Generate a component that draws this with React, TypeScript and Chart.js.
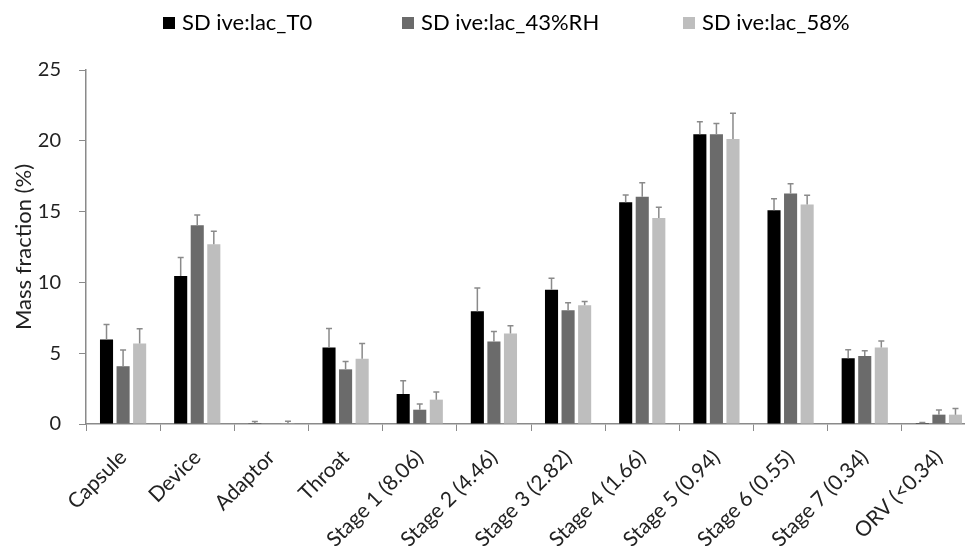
import React, { useEffect, useRef } from "react";
import { Chart, registerables } from "chart.js";

Chart.register(...registerables);

const categories = [
  "Capsule", "Device", "Adaptor", "Throat", "Stage 1 (8.06)", "Stage 2 (4.46)",
  "Stage 3 (2.82)", "Stage 4 (1.66)", "Stage 5 (0.94)", "Stage 6 (0.55)", "Stage 7 (0.34)", "ORV (<0.34)",
];
const seriesNames = ["SD ive:lac_T0", "SD ive:lac_43%RH", "SD ive:lac_58%"];
const seriesColors = ["#000000", "#6b6b6b", "#bebebe"];
const valuesT0 = [5.97, 10.45, 0.05, 5.4, 2.12, 7.97, 9.48, 15.66, 20.47, 15.1, 4.64, 0.06];
const valuesRH43 = [4.08, 14.03, 0, 3.86, 1.01, 5.82, 8.04, 16.04, 20.47, 16.28, 4.81, 0.66];
const valuesRH58 = [5.68, 12.69, 0.05, 4.6, 1.72, 6.39, 8.39, 14.55, 20.12, 15.5, 5.4, 0.66];
const errT0 = [1.05, 1.3, 0.12, 1.34, 0.94, 1.63, 0.82, 0.52, 0.88, 0.8, 0.6, 0.04];
const errRH43 = [1.15, 0.73, 0, 0.55, 0.4, 0.71, 0.52, 1.0, 0.76, 0.68, 0.36, 0.33];
const errRH58 = [1.04, 0.92, 0.15, 1.08, 0.54, 0.54, 0.26, 0.76, 1.82, 0.66, 0.47, 0.44];
const yTicks = [0, 5, 10, 15, 20, 25];

const FONT = "Lato";
const CANVAS_W = 990;
const CANVAS_H = 570;
const LEGEND_X = [163, 402, 683];

export default function App() {
  const ref = useRef<HTMLCanvasElement | null>(null);

  useEffect(() => {
    if (!ref.current) return;
    const errors = [errT0, errRH43, errRH58];

    const errorBarPlugin = {
      id: "errorBars",
      afterDatasetsDraw(chart: any) {
        const ctx = chart.ctx;
        const yScale = chart.scales.y;
        ctx.save();
        ctx.strokeStyle = "#8a8a8a";
        ctx.lineWidth = 1.5;
        chart.data.datasets.forEach((ds: any, i: number) => {
          const meta = chart.getDatasetMeta(i);
          meta.data.forEach((bar: any, j: number) => {
            const e = errors[i][j];
            if (!e) return;
            const v = ds.data[j];
            const yTop = yScale.getPixelForValue(v + e);
            ctx.beginPath();
            ctx.moveTo(bar.x, bar.y);
            ctx.lineTo(bar.x, yTop);
            ctx.moveTo(bar.x - 3, yTop);
            ctx.lineTo(bar.x + 3, yTop);
            ctx.stroke();
          });
        });
        ctx.restore();
      },
    };

    const legendPlugin = {
      id: "customLegend",
      afterDraw(chart: any) {
        const ctx = chart.ctx;
        ctx.save();
        ctx.font = `22px ${FONT}`;
        ctx.textBaseline = "middle";
        ctx.textAlign = "left";
        const yc = 23;
        chart.data.datasets.forEach((ds: any, i: number) => {
          const x = LEGEND_X[i];
          ctx.fillStyle = ds.backgroundColor;
          ctx.fillRect(x, yc - 6, 12, 12);
          ctx.fillStyle = "#000";
          ctx.fillText(ds.label, x + 19, yc);
        });
        ctx.restore();
      },
    };

    const chart = new Chart(ref.current, {
      type: "bar",
      data: {
        labels: categories,
        datasets: [valuesT0, valuesRH43, valuesRH58].map((d, i) => ({
          label: seriesNames[i],
          data: d,
          backgroundColor: seriesColors[i],
          borderWidth: 0,
          categoryPercentage: 0.67,
          barPercentage: 0.79,
        })),
      },
      options: {
        responsive: false,
        animation: false,
        layout: { padding: { top: 70, right: 14, left: 0, bottom: 0 } },
        plugins: {
          legend: { display: false },
          tooltip: { enabled: false },
        },
        scales: {
          x: {
            grid: { drawOnChartArea: false, drawTicks: true, tickLength: 7, color: "#8a8a8a", offset: true },
            border: { display: true, color: "#8a8a8a", width: 1.5 },
            ticks: {
              autoSkip: false,
              maxRotation: 45,
              minRotation: 45,
              color: "#222",
              font: { family: FONT, size: 21 },
              padding: 14,
            },
            afterFit: (s: any) => { s.height = CANVAS_H - 424; },
          },
          y: {
            min: 0,
            max: 25,
            afterBuildTicks: (s: any) => { s.ticks = yTicks.map((v) => ({ value: v })); },
            grid: { drawOnChartArea: false, drawTicks: true, tickLength: 7, color: "#8a8a8a" },
            border: { display: true, color: "#8a8a8a", width: 1.5 },
            ticks: { color: "#222", font: { family: FONT, size: 20 }, padding: 18 },
            title: {
              display: true,
              text: "Mass fraction (%)",
              color: "#222",
              font: { family: FONT, size: 22 },
              padding: { top: 11, bottom: 0 },
            },
            afterFit: (s: any) => { s.width = 86; },
          },
        },
      },
      plugins: [errorBarPlugin, legendPlugin],
    });
    return () => chart.destroy();
  }, []);

  return (
    <div style={{ position: "absolute", left: 0, top: 0, width: 965, height: 546, overflow: "hidden", background: "#fff" }}>
      <canvas ref={ref} width={CANVAS_W} height={CANVAS_H} style={{ display: "block" }} />
    </div>
  );
}
